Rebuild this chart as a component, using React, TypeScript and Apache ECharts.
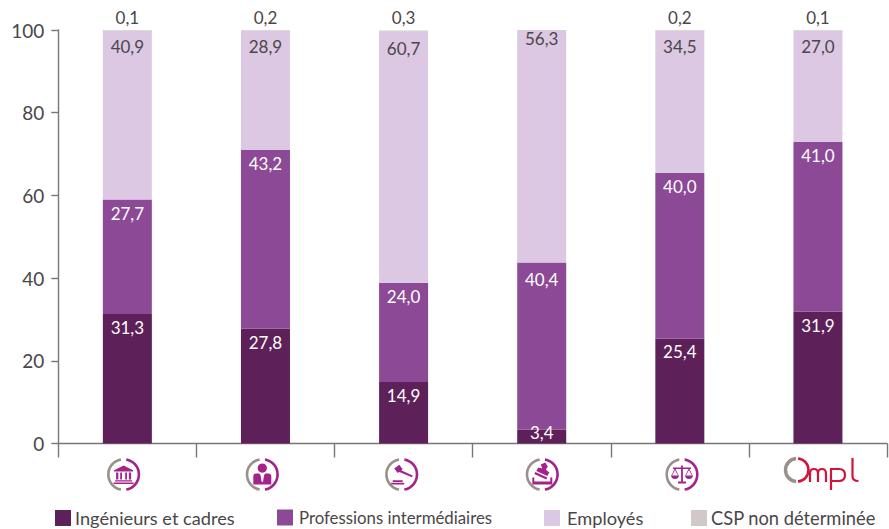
import React, { useEffect, useRef } from "react";
import * as echarts from "echarts";

const categories = ["Banque", "Personne", "Marteau", "Tampon", "Balance", "Ompl"];
const ingenieurs = [31.3, 27.8, 14.9, 3.4, 25.4, 31.9];
const intermediaires = [27.7, 43.2, 24.0, 40.4, 40.0, 41.0];
const employes = [40.9, 28.9, 60.7, 56.3, 34.5, 27.0];
const nonDeterminee: (number | null)[] = [0.1, 0.2, 0.3, null, 0.2, 0.1];

const FONT = "Lato";
const TEXT = "#4a4649";
const MAGENTA = "#a3228c";
const GREY = "#9a8f8a";
const RED = "#d2143a";

const fmt = (p: any) => (p.value == null ? "" : Number(p.value).toFixed(1).replace(".", ","));

echarts.graphic.registerShape("bank", echarts.graphic.extendPath(
  "M0 -9 L9.5 -4.2 L9.5 -3 L-9.5 -3 L-9.5 -4.2 Z M-7.5 -2 h2.2 v7 h-2.2 Z M-3.4 -2 h1.8 v7 h-1.8 Z M1.6 -2 h1.8 v7 h-1.8 Z M5.3 -2 h2.2 v7 h-2.2 Z M-8.5 5.8 h17 v1.3 h-17 Z M-10 8 h20 v1.6 h-20 Z", {}));
echarts.graphic.registerShape("person", echarts.graphic.extendPath(
  "M0 -11 A4.6 4.6 0 1 1 -0.01 -11 Z M-9 10 V2 Q-9 -1 -6 -1 H-3 L-1.6 1 L-1 6 L0 8 L1 6 L1.6 1 L3 -1 H6 Q9 -1 9 2 V10 Z", {}));
echarts.graphic.registerShape("gavel", echarts.graphic.extendPath(
  "M-7.5 -6 L-2.5 -9.8 L1 -5.2 L-4 -1.4 Z M-1.2 -4.6 L11 1 L10.2 2.8 L-2.4 -2.6 Z M-9 5.8 H1 V7.4 H-9 Z M-10.5 8.2 H2.5 V10 H-10.5 Z", {}));
echarts.graphic.registerShape("stamp", echarts.graphic.extendPath(
  "M-1.5 -10 L3 -12 L5.5 -8 L3.5 -5 L7 -2 L5 1.5 L-6 -3.5 L-4 -7 L0 -6 Z M-7 -2.5 L5 3 L4 5 L-8 -0.5 Z M-10 3 H-8 V7 H8 V3 H10 V10 H-10 Z", {}));
echarts.graphic.registerShape("scales", echarts.graphic.extendPath(
  "M-0.9 -9 H0.9 V7 H4 V9 H-4 V7 H-0.9 Z M-9 -7 H9 V-5.6 H-9 Z M-11 1 H-3 Q-3.6 4.5 -7 4.5 Q-10.4 4.5 -11 1 Z M3 1 H11 Q10.4 4.5 7 4.5 Q3.6 4.5 3 1 Z M-7.3 -6 H-6.7 L-3.4 1 H-4 L-7 -4.6 L-10 1 H-10.6 Z M6.7 -6 H7.3 L10.6 1 H10 L7 -4.6 L4 1 H3.4 Z", {}));
echarts.graphic.registerShape("ompl", echarts.graphic.extendPath(
  "M810 482 V473.5 Q810 469 814 469 Q818 469 818 473.5 V482 M818 473.5 Q818 469 822 469 Q826 469 826 473.5 V482 M831 490 V469 H839 Q845 469 845 475 Q845 481 839 481 H831 M852.5 458 V476 Q852.5 481 858.5 481", {}));

const icons = [
  { type: "bank", x: 123.6 },
  { type: "person", x: 262.3 },
  { type: "gavel", x: 401.7 },
  { type: "stamp", x: 542.3 },
  { type: "scales", x: 682 },
];

const iconY = 474.5;

function ringIcon(type: string, x: number) {
  return {
    type: "group",
    x,
    y: iconY,
    silent: true,
    children: [
      { type: "arc", shape: { cx: 0, cy: 0, r: 15.3, startAngle: (100 * Math.PI) / 180, endAngle: (260 * Math.PI) / 180 }, style: { fill: "none", stroke: GREY, lineWidth: 2.6 } },
      { type: "arc", shape: { cx: 0, cy: 0, r: 15.3, startAngle: (-80 * Math.PI) / 180, endAngle: (80 * Math.PI) / 180 }, style: { fill: "none", stroke: MAGENTA, lineWidth: 2.6 } },
      { type, style: { fill: MAGENTA } },
    ],
  };
}

export default function App() {
  const ref = useRef<HTMLDivElement>(null);
  useEffect(() => {
    document.body.style.margin = "0";
    const chart = echarts.init(ref.current!, null, { renderer: "svg" });
    const stackLabel = (color: string, distance: number) => ({
      show: true,
      position: "insideTop" as const,
      distance,
      color,
      fontFamily: FONT,
      fontSize: 17,
      formatter: fmt,
    });
    const legendBase = (left: number, name: string, fontSize: number, textLeft: number) => ({
      left,
      top: 509,
      padding: 0,
      itemWidth: 16,
      itemHeight: 16,
      itemGap: 0,
      icon: "rect",
      selectedMode: false,
      data: [name],
      textStyle: { color: TEXT, fontFamily: FONT, fontSize, padding: [0, 0, 0, textLeft] },
    });
    chart.setOption({
      animation: false,
      backgroundColor: "#ffffff",
      grid: { left: 58.3, right: 2, top: 30, bottom: 85.5 },
      legend: [
        legendBase(55, "Ingénieurs et cadres", 18.2, -1),
        legendBase(277, "Professions intermédiaires", 16.8, 1),
        legendBase(544, "Employés", 18.2, 2),
        legendBase(691, "CSP non déterminée", 18.3, -1),
      ],
      xAxis: {
        type: "category",
        data: categories,
        boundaryGap: true,
        axisLine: { lineStyle: { color: "#7a7678", width: 1.4 } },
        axisTick: { show: true, length: 14, alignWithLabel: false, lineStyle: { color: "#7a7678", width: 1.4 } },
        axisLabel: { show: false },
        splitLine: { show: false },
      },
      yAxis: {
        type: "value",
        min: 0,
        max: 100,
        interval: 20,
        axisLine: { show: true, lineStyle: { color: "#7a7678", width: 1.4 } },
        axisTick: { show: true, length: 7, lineStyle: { color: "#7a7678", width: 1.4 } },
        axisLabel: { margin: 14, color: TEXT, fontFamily: FONT, fontSize: 19 },
        splitLine: { show: false },
      },
      series: [
        {
          name: "Ingénieurs et cadres",
          type: "bar",
          stack: "t",
          barWidth: 49,
          itemStyle: { color: "#5e2058" },
          label: stackLabel("#ffffff", 5),
          data: ingenieurs.map((v) => (v < 5 ? { value: v, label: { position: "inside", offset: [0, -4] } } : { value: v })),
        },
        {
          name: "Professions intermédiaires",
          type: "bar",
          stack: "t",
          itemStyle: { color: "#8c4a96" },
          label: stackLabel("#ffffff", 5),
          data: intermediaires.map((v, i) => (nonDeterminee[i] == null ? { value: v, label: { distance: 9 } } : { value: v })),
        },
        {
          name: "Employés",
          type: "bar",
          stack: "t",
          itemStyle: { color: "#dcc8e3" },
          label: stackLabel(TEXT, 8),
          data: employes.map((v, i) => (nonDeterminee[i] == null ? { value: v, label: { distance: 0 } } : { value: v })),
        },
        {
          name: "CSP non déterminée",
          type: "bar",
          stack: "t",
          itemStyle: { color: "#d2c8c8" },
          label: { show: true, position: "top", distance: 4, color: TEXT, fontFamily: FONT, fontSize: 17, formatter: fmt },
          data: nonDeterminee,
        },
      ],
      graphic: {
        elements: [
          ...icons.map((ic) => ringIcon(ic.type, ic.x)),
          {
            type: "group",
            silent: true,
            children: [
              { type: "arc", shape: { cx: 797, cy: 470, r: 11.5, startAngle: (95 * Math.PI) / 180, endAngle: (265 * Math.PI) / 180 }, style: { fill: "none", stroke: GREY, lineWidth: 3.4 } },
              { type: "arc", shape: { cx: 797, cy: 470, r: 11.5, startAngle: (-85 * Math.PI) / 180, endAngle: (85 * Math.PI) / 180 }, style: { fill: "none", stroke: RED, lineWidth: 2.6 } },
              { type: "ompl", style: { fill: "none", stroke: RED, lineWidth: 2.2 } },
            ],
          },
        ],
      },
    });
    return () => chart.dispose();
  }, []);
  return <div ref={ref} style={{ width: 889, height: 529 }} />;
}
